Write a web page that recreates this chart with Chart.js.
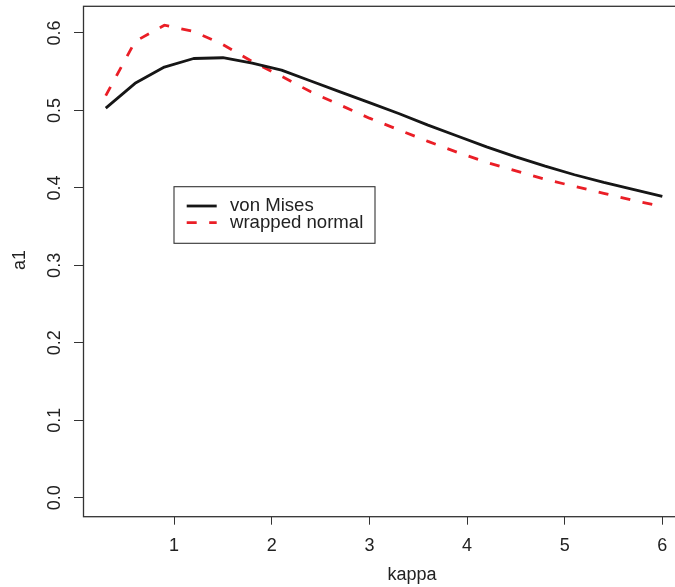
<!DOCTYPE html>
<html><head><meta charset="utf-8">
<script src="https://cdn.jsdelivr.net/npm/chart.js@4.4.0/dist/chart.umd.min.js"></script>
<style>
html,body{margin:0;padding:0;overflow:hidden;background:#fff;width:675px;height:587px}
#wrap{position:absolute;left:0;top:0;width:700px;height:587px}
</style>
</head><body><div id="wrap"><canvas id="c" width="700" height="587"></canvas></div>
<script>
const kappa = [0.3,0.6,0.9,1.2,1.5,1.8,2.1,2.4,2.7,3.0,3.3,3.6,3.9,4.2,4.5,4.8,5.1,5.4,5.7,6.0];
const vonMises = [0.503,0.535,0.556,0.567,0.568,0.561,0.552,0.538,0.524,0.510,0.496,0.481,0.467,0.453,0.440,0.428,0.417,0.407,0.398,0.389];
const wrappedNormal = [0.519,0.589,0.610,0.602,0.585,0.563,0.544,0.524,0.507,0.490,0.475,0.460,0.446,0.433,0.422,0.411,0.402,0.393,0.384,0.376];
const xTickValues = [1,2,3,4,5,6];
const xTickLabels = ['1','2','3','4','5','6'];
const yTickValues = [0,0.1,0.2,0.3,0.4,0.5,0.6];
const yTickLabels = ['0.0','0.1','0.2','0.3','0.4','0.5','0.6'];
const seriesNames = ['von Mises','wrapped normal'];
const xTitle = 'kappa';
const yTitle = 'a1';

const FONT = '18px "Liberation Sans", Arial, Helvetica, sans-serif';
const LEGEND_FONT = '18.6px "Liberation Sans", Arial, Helvetica, sans-serif';
const TEXT = '#222';

const toPts = (ys) => kappa.map((k,i) => ({x:k, y:ys[i]}));

const decor = {
  id:'decor',
  afterDraw(chart){
    const ctx = chart.ctx, a = chart.chartArea;
    const xs = chart.scales.x, ys = chart.scales.y;
    ctx.save();
    // box
    ctx.strokeStyle = '#333'; ctx.lineWidth = 1.3;
    ctx.strokeRect(a.left, a.top, a.right - a.left, a.bottom - a.top);
    ctx.fillStyle = TEXT; ctx.font = FONT;
    // x tick labels
    ctx.textAlign = 'center'; ctx.textBaseline = 'middle';
    xs.ticks.forEach((t) => {
      const px = xs.getPixelForValue(t.value);
      ctx.fillText(xTickLabels[xTickValues.indexOf(t.value)], px, 546);
    });
    // y tick labels rotated
    ys.ticks.forEach((t) => {
      const py = ys.getPixelForValue(t.value);
      ctx.save(); ctx.translate(55.5, py); ctx.rotate(-Math.PI/2);
      ctx.fillText(yTickLabels[yTickValues.indexOf(t.value)], 0, 0);
      ctx.restore();
    });
    // titles
    ctx.fillText(xTitle, 412, 575);
    ctx.save(); ctx.translate(20.5, 260); ctx.rotate(-Math.PI/2);
    ctx.fillText(yTitle, 0, 0); ctx.restore();
    // legend
    const L = {x:174, y:186.7, w:201, h:56.6};
    ctx.fillStyle = '#fff'; ctx.fillRect(L.x, L.y, L.w, L.h);
    ctx.strokeStyle = '#333'; ctx.lineWidth = 1.1;
    ctx.strokeRect(L.x, L.y, L.w, L.h);
    const rows = [206, 222.7];
    ctx.font = LEGEND_FONT;
    chart.data.datasets.forEach((ds, i) => {
      ctx.save();
      ctx.strokeStyle = ds.borderColor; ctx.lineWidth = ds.borderWidth;
      ctx.setLineDash(ds.borderDash || []);
      ctx.beginPath(); ctx.moveTo(186.7, rows[i]); ctx.lineTo(216.7, rows[i]); ctx.stroke();
      ctx.restore();
      ctx.fillStyle = TEXT; ctx.textAlign = 'left'; ctx.textBaseline = 'middle';
      ctx.fillText(ds.label, 230, rows[i]);
    });
    ctx.restore();
  }
};

const xGrid = {display:true, drawOnChartArea:false, drawTicks:true, tickLength:8, color:'#333', lineWidth:1};
const yGrid = {display:true, drawOnChartArea:false, drawTicks:true, tickLength:9.5, color:'#333', lineWidth:1};

new Chart(document.getElementById('c'), {
  type:'line',
  data:{datasets:[
    {label:seriesNames[0], data:toPts(vonMises), borderColor:'#161616', borderWidth:2.8, pointRadius:0, tension:0, fill:false, borderJoinStyle:'round'},
    {label:seriesNames[1], data:toPts(wrappedNormal), borderColor:'rgb(234,30,38)', borderWidth:2.8, borderDash:[10,12.5], pointRadius:0, tension:0, fill:false}
  ]},
  options:{
    responsive:false, animation:false, devicePixelRatio:1,
    layout:{padding:{left:0, top:6.3, right:15.4, bottom:0}},
    plugins:{legend:{display:false}, tooltip:{enabled:false}},
    scales:{
      x:{type:'linear', min:0.072, max:6.228,
        afterBuildTicks:(s)=>{ s.ticks = xTickValues.map(v=>({value:v})); },
        afterFit:(s)=>{ s.height = 70.3; },
        ticks:{display:false}, grid:xGrid, border:{display:false}},
      y:{type:'linear', min:-0.0244, max:0.6344,
        afterBuildTicks:(s)=>{ s.ticks = yTickValues.map(v=>({value:v})); },
        afterFit:(s)=>{ s.width = 83.5; },
        ticks:{display:false}, grid:yGrid, border:{display:false}}
    }
  },
  plugins:[decor]
});
</script>
</body></html>
